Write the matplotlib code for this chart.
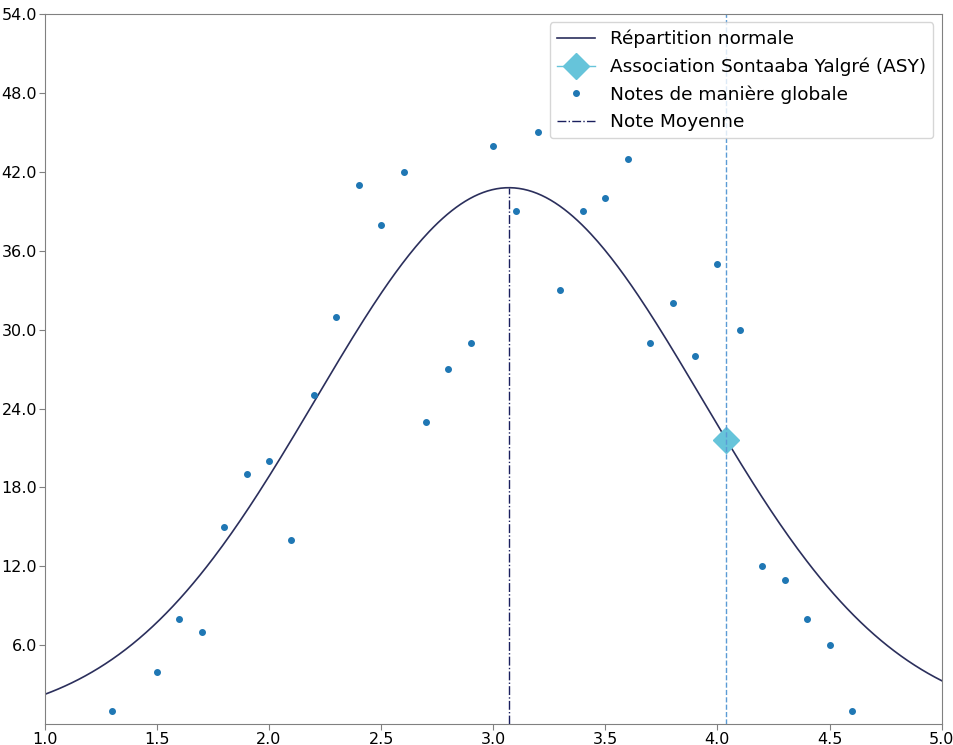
import matplotlib
matplotlib.use("Agg")
import matplotlib.pyplot as plt
import numpy as np

# notes observed (x = note, y = count)
note_values = [1.3, 1.5, 1.6, 1.7, 1.8, 1.9, 2.0, 2.1, 2.2, 2.3, 2.4, 2.5, 2.6, 2.7, 2.8,
               2.9, 3.0, 3.1, 3.2, 3.3, 3.4, 3.5, 3.6, 3.7, 3.8, 3.9, 4.0, 4.1, 4.2, 4.3,
               4.4, 4.5, 4.6]
note_counts = [1, 4, 8, 7, 15, 19, 20, 14, 25, 31, 41, 38, 42, 23, 27,
               29, 44, 39, 45, 33, 39, 40, 43, 29, 32, 28, 35, 30, 12, 11,
               8, 6, 1]

# normal distribution parameters
mean_note = 3.07
std_note = 0.861
peak_height = 40.8

asy_label = "Association Sontaaba Yalgré (ASY)"
asy_note = 4.04

y_ticks = [6, 12, 18, 24, 30, 36, 42, 48, 54]
x_ticks = [1.0, 1.5, 2.0, 2.5, 3.0, 3.5, 4.0, 4.5, 5.0]


def normal_curve(x):
    return peak_height * np.exp(-((x - mean_note) ** 2) / (2 * std_note ** 2))


fig = plt.figure(figsize=(9.54, 7.45), dpi=100)
ax = fig.add_axes([0.047, 0.028, 0.94, 0.953])

xs = np.linspace(1.0, 5.0, 400)
ax.plot(xs, normal_curve(xs), color="#2b2f5c", linewidth=1.2, label="Répartition normale")
ax.plot([asy_note], [normal_curve(asy_note)], color="#66c4da", marker="D", markersize=13,
        linewidth=1, label=asy_label)
ax.plot(note_values, note_counts, linestyle="none", marker="o", markersize=4,
        color="#1f77b4", label="Notes de manière globale")
ax.vlines(mean_note, 0, normal_curve(mean_note), colors="#1a1f5e", linestyles="-.",
          linewidth=1, label="Note Moyenne")
ax.axvline(asy_note, color="#5b9bd5", linestyle="--", linewidth=1)

ax.set_xlim(1.0, 5.0)
ax.set_ylim(0, 54)
ax.set_xticks(x_ticks)
ax.set_yticks(y_ticks)
ax.xaxis.set_major_formatter(matplotlib.ticker.FormatStrFormatter("%.1f"))
ax.yaxis.set_major_formatter(matplotlib.ticker.FormatStrFormatter("%.1f"))
ax.tick_params(labelsize=11.5, colors="#808080", labelcolor="black", pad=1.5, length=4)
for spine in ax.spines.values():
    spine.set_color("#808080")

ax.legend(loc="upper right", fontsize=13.3, framealpha=0.8, borderaxespad=0.45,
          handlelength=2.05)

fig.savefig("out.png", dpi=100)
